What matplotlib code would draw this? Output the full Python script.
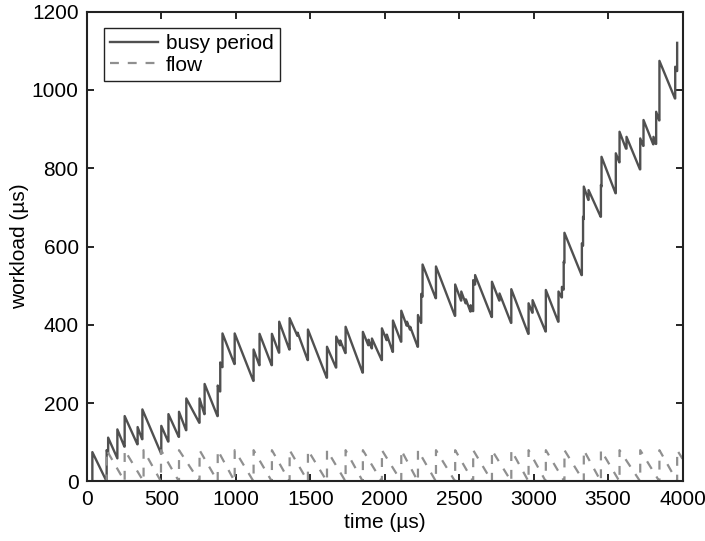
import matplotlib
matplotlib.use("Agg")
import matplotlib.pyplot as plt

# ---------------------------------------------------------------- DATA
# busy period workload, vertices of the sawtooth (time in us, workload in us)
busy_t = [36, 36, 132, 132, 140, 142, 142, 204, 204, 251, 253, 253,
          338, 340, 340, 370, 372, 372, 497, 499, 499, 545, 547, 547,
          616, 618, 618, 665, 667, 667, 754, 756, 756, 788, 790, 790,
          876, 878, 878, 893, 895, 895, 908, 910, 910, 990, 992, 992,
          1117, 1119, 1119, 1157, 1159, 1159, 1240, 1242, 1242, 1289, 1291, 1291,
          1359, 1361, 1361, 1413, 1415, 1415, 1482, 1484, 1484, 1610, 1612, 1612,
          1672, 1674, 1674, 1699, 1701, 1701, 1735, 1737, 1737, 1851, 1853, 1853,
          1889, 1891, 1891, 1912, 1914, 1914, 1979, 1981, 1981, 2012, 2014, 2014,
          2053, 2055, 2055, 2109, 2111, 2111, 2147, 2149, 2149, 2169, 2171, 2171,
          2221, 2223, 2223, 2243, 2245, 2245, 2252, 2254, 2254, 2342, 2344, 2344,
          2471, 2473, 2473, 2512, 2514, 2514, 2543, 2545, 2545, 2575, 2577, 2577,
          2592, 2594, 2594, 2605, 2607, 2607, 2718, 2720, 2720, 2769, 2771, 2771,
          2848, 2850, 2850, 2964, 2966, 2966, 2991, 2993, 2993, 3080, 3082, 3082,
          3165, 3167, 3167, 3188, 3190, 3190, 3200, 3202, 3202, 3205, 3207, 3207,
          3322, 3324, 3324, 3330, 3332, 3332, 3335, 3337, 3337, 3367, 3369, 3369,
          3450, 3452, 3452, 3455, 3456, 3456, 3550, 3552, 3552, 3575, 3577, 3577,
          3620, 3624, 3624, 3714, 3716, 3716, 3736, 3738, 3738, 3803, 3805, 3805,
          3821, 3823, 3823, 3843, 3845, 3845, 3949, 3951, 3951, 3962, 3964, 3964]
busy_w = [0, 75, 0, 80, 72, 72, 112, 59, 133, 89, 89, 167,
          95, 95, 139, 108, 108, 184, 72, 72, 142, 102, 102, 172,
          114, 114, 178, 131, 131, 212, 150, 150, 212, 172, 172, 249,
          167, 167, 245, 230, 230, 304, 292, 292, 378, 300, 300, 378,
          257, 257, 337, 297, 297, 377, 297, 297, 377, 329, 329, 408,
          337, 337, 417, 372, 372, 380, 310, 310, 388, 265, 265, 344,
          291, 291, 370, 348, 348, 360, 328, 328, 395, 278, 278, 382,
          348, 348, 362, 340, 340, 365, 310, 310, 391, 361, 361, 375,
          331, 331, 411, 357, 357, 436, 398, 398, 408, 388, 388, 395,
          344, 344, 425, 405, 405, 479, 472, 472, 554, 468, 468, 549,
          423, 423, 503, 462, 462, 485, 455, 455, 465, 434, 434, 450,
          435, 435, 514, 503, 503, 527, 420, 420, 510, 462, 462, 480,
          405, 405, 491, 377, 377, 455, 431, 431, 463, 383, 383, 489,
          408, 408, 485, 470, 470, 497, 490, 490, 561, 558, 558, 635,
          527, 527, 608, 602, 602, 676, 670, 670, 753, 719, 719, 744,
          676, 676, 757, 753, 753, 829, 736, 736, 838, 815, 815, 893,
          850, 850, 880, 797, 797, 876, 857, 857, 923, 861, 861, 880,
          862, 862, 944, 922, 922, 1074, 978, 978, 1059, 1048, 1048, 1120]

# flow: packet arrival times (us), workload added at each arrival,
# and what is left of the last packet at the right edge
flow_arrivals = [132, 253, 380, 497, 618, 756, 878, 992, 1119, 1242, 1361,
                 1484, 1612, 1737, 1853, 1981, 2111, 2223, 2344, 2473, 2594,
                 2720, 2850, 2966, 3082, 3207, 3337, 3452, 3577, 3716, 3845, 3964]
flow_size = [80] * len(flow_arrivals)
flow_end = 4000
flow_end_left = 58

x_ticks = [0, 500, 1000, 1500, 2000, 2500, 3000, 3500, 4000]
y_ticks = [0, 200, 400, 600, 800, 1000, 1200]

# ---------------------------------------------------------------- PLOT
plt.rcParams['font.family'] = ['Liberation Sans', 'DejaVu Sans']
plt.rcParams['font.size'] = 15

# flow drains until the next packet arrives
flow_next = flow_arrivals[1:] + [flow_end]
flow_t, flow_w = [0], [0]
for i, t in enumerate(flow_arrivals):
    flow_t += [t, t, flow_next[i]]
    flow_w += [0, flow_size[i], 0]
flow_w[-1] = flow_end_left

fig = plt.figure(figsize=(7.05, 5.41), dpi=100)
ax = fig.add_axes([0.1234, 0.110, 0.8447, 0.8687])

ax.plot(busy_t, busy_w, color='#505050', lw=1.7, label='busy period')
ax.plot(flow_t, flow_w, color='#8f8f8f', lw=1.6, ls=(0, (4, 4)), label='flow')

ax.set_xlim(0, 4000)
ax.set_ylim(0, 1200)
ax.set_xticks(x_ticks)
ax.set_yticks(y_ticks)
ax.tick_params(direction='in', top=True, right=True, length=5, width=1.2, pad=6)
for s in ax.spines.values():
    s.set_linewidth(1.5)
    s.set_color('#222222')

ax.set_xlabel('time (\u00b5s)', labelpad=3)
ax.set_ylabel('workload (\u00b5s)', labelpad=2)

leg = ax.legend(loc='upper left', fancybox=False, edgecolor='#222222',
                framealpha=1, borderaxespad=0.8, handlelength=2.3,
                handletextpad=0.4, borderpad=0.3, labelspacing=0.1)
leg.get_frame().set_linewidth(1.0)

fig.savefig('out.png', dpi=100)
